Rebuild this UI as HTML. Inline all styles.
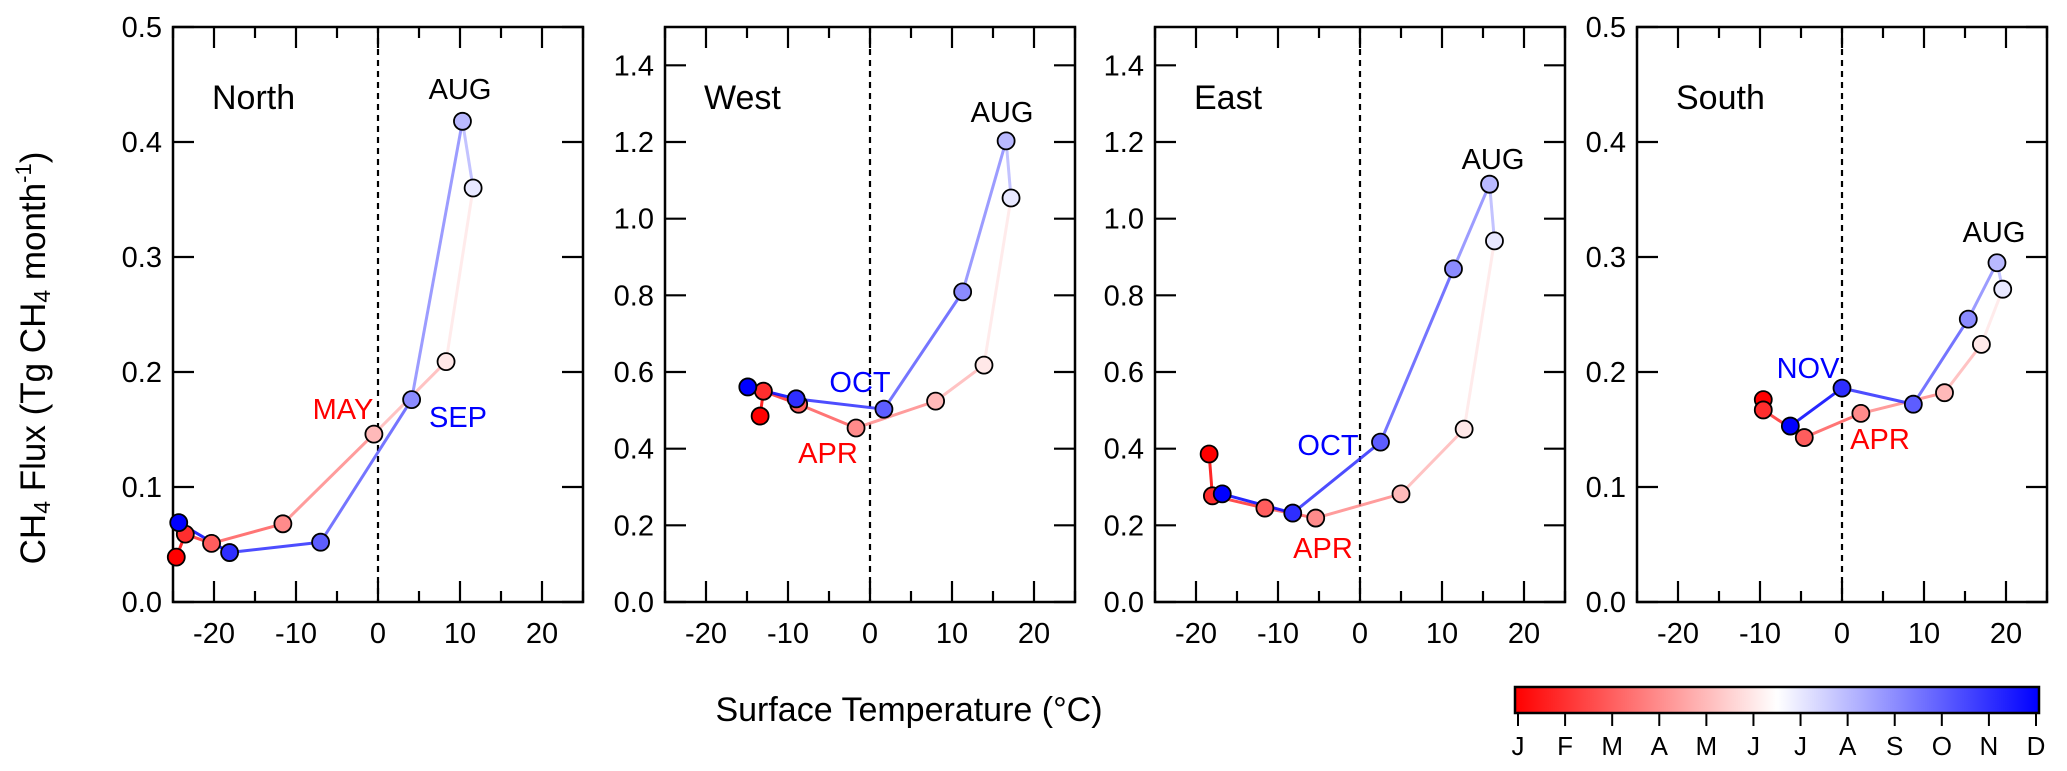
<!DOCTYPE html>
<html><head><meta charset="utf-8">
<style>
html,body{margin:0;padding:0;background:#fff;}
svg{display:block;font-family:"Liberation Sans",Arial,sans-serif;}
</style></head>
<body>
<svg id="fig" xmlns="http://www.w3.org/2000/svg" width="2067" height="771" viewBox="0 0 2067 771">
<text transform="translate(45,358) rotate(-90)" text-anchor="middle" font-size="35">CH<tspan font-size="23" dy="5">4</tspan><tspan dy="-5"> Flux (Tg CH</tspan><tspan font-size="23" dy="5">4</tspan><tspan dy="-5"> month</tspan><tspan font-size="22" dy="-14">-1</tspan><tspan dy="14">)</tspan></text>
<text x="909" y="721" text-anchor="middle" font-size="34">Surface Temperature (°C)</text>
<g id="panels"></g>
<g id="cbar"></g>
</svg>
<script>
const months = ["J","F","M","A","M","J","J","A","S","O","N","D"];
const northTemp = [-24.6,-23.5,-20.3,-11.6,-0.5,8.3,11.6,10.3,4.1,-7.0,-18.1,-24.3];
const northFlux = [0.039,0.059,0.051,0.068,0.146,0.209,0.360,0.418,0.176,0.052,0.043,0.069];
const westTemp = [-13.4,-13.0,-8.7,-1.7,8.0,13.9,17.2,16.6,11.3,1.7,-9.0,-14.9];
const westFlux = [0.485,0.550,0.516,0.454,0.524,0.618,1.054,1.203,0.809,0.503,0.530,0.561];
const eastTemp = [-18.4,-18.0,-11.6,-5.4,5.0,12.7,16.4,15.8,11.4,2.5,-8.2,-16.8];
const eastFlux = [0.386,0.277,0.245,0.219,0.282,0.451,0.942,1.090,0.869,0.417,0.232,0.282];
const southTemp = [-9.6,-9.6,-4.6,2.3,12.5,17.0,19.6,18.9,15.4,8.7,0.0,-6.3];
const southFlux = [0.176,0.167,0.143,0.164,0.182,0.224,0.272,0.295,0.246,0.172,0.186,0.153];
const xTickLabels = ["-20","-10","0","10","20"];
const smallYTicks = ["0.0","0.1","0.2","0.3","0.4","0.5"];
const bigYTicks = ["0.0","0.2","0.4","0.6","0.8","1.0","1.2","1.4"];

const NS="http://www.w3.org/2000/svg";
function mk(tag, attrs, parent){const e=document.createElementNS(NS,tag);for(const k in attrs)e.setAttribute(k,attrs[k]);parent.appendChild(e);return e;}
function monthColor(i){const t=i/11;let r,g,b;
 if(t<=0.5){r=255;g=b=Math.round(510*t);} else {b=255;r=g=Math.round(255*(2-2*t));}
 return `rgb(${r},${g},${b})`;}

const panelsDef=[
 {name:"north",title:"North",left:173,temp:northTemp,flux:northFlux,ymax:0.5,yt:smallYTicks,
  labels:[["AUG",460,99,"#000"],["MAY",343,419,"#f00"],["SEP",458,427,"#00f"]]},
 {name:"west",title:"West",left:665,temp:westTemp,flux:westFlux,ymax:1.5,yt:bigYTicks,
  labels:[["AUG",1002,122,"#000"],["OCT",860,392,"#00f"],["APR",828,463,"#f00"]]},
 {name:"east",title:"East",left:1155,temp:eastTemp,flux:eastFlux,ymax:1.5,yt:bigYTicks,
  labels:[["AUG",1493,169,"#000"],["OCT",1328,455,"#00f"],["APR",1323,558,"#f00"]]},
 {name:"south",title:"South",left:1637,temp:southTemp,flux:southFlux,ymax:0.5,yt:smallYTicks,
  labels:[["AUG",1994,242,"#000"],["NOV",1808,378,"#00f"],["APR",1880,449,"#f00"]]}
];
const TOP=27,BOT=602,W=410;
const root=document.getElementById('panels');
panelsDef.forEach(p=>{
 const g=mk('g',{},root);
 
 
 const xs=v=>p.left+(v+25)/50*W;
 const ys=v=>BOT-(v/p.ymax)*(BOT-TOP);
 const z=mk('line',{x1:xs(0),x2:xs(0),y1:TOP,y2:BOT,stroke:'#000','stroke-width':2.2,'stroke-dasharray':'6,5'},g);
 
 
 const f=mk('rect',{x:p.left,y:TOP,width:W,height:BOT-TOP,fill:'none',stroke:'#000','stroke-width':2.5},g);
 
 
 for(let v=-25;v<=25;v+=5){const L=(v%10===0)?21:11;const x=xs(v);
  mk('line',{x1:x,x2:x,y1:BOT,y2:BOT-L,stroke:'#000','stroke-width':2.2},g);
  mk('line',{x1:x,x2:x,y1:TOP,y2:TOP+L,stroke:'#000','stroke-width':2.2},g);}
 xTickLabels.forEach(s=>{const t=mk('text',{x:xs(+s),y:643,'text-anchor':'middle','font-size':29},g);t.textContent=s;
  
  });
 p.yt.forEach(s=>{const y=ys(+s);
  mk('line',{x1:p.left,x2:p.left+21,y1:y,y2:y,stroke:'#000','stroke-width':2.2},g);
  mk('line',{x1:p.left+W,x2:p.left+W-21,y1:y,y2:y,stroke:'#000','stroke-width':2.2},g);
  const t=mk('text',{x:p.left-11,y:y+10,'text-anchor':'end','font-size':29},g);t.textContent=s;
  
  });
 const tt=mk('text',{x:p.left+39,y:109,'font-size':34},g);tt.textContent=p.title;
 
 
 for(let i=0;i<11;i++){const c=i<6?monthColor(i):monthColor(i+1);
  const s=mk('line',{x1:xs(p.temp[i]),y1:ys(p.flux[i]),x2:xs(p.temp[i+1]),y2:ys(p.flux[i+1]),stroke:c,'stroke-width':3,'stroke-opacity':0.85},g);
  
  }
 for(let i=0;i<12;i++){
  const c=mk('circle',{cx:xs(p.temp[i]),cy:ys(p.flux[i]),r:8.5,fill:monthColor(i),stroke:'#000','stroke-width':1.8},g);
  
  }
 p.labels.forEach(l=>{const t=mk('text',{x:l[1],y:l[2],'text-anchor':'middle','font-size':29,fill:l[3]},g);t.textContent=l[0];
  
  });
});
const cb=document.getElementById('cbar');


const defs=mk('defs',{},cb);
const lg=mk('linearGradient',{id:'grad',x1:0,x2:1,y1:0,y2:0},defs);
mk('stop',{offset:0,'stop-color':'rgb(255,0,0)'},lg);
mk('stop',{offset:0.5,'stop-color':'rgb(255,255,255)'},lg);
mk('stop',{offset:1,'stop-color':'rgb(0,0,255)'},lg);
const CBL=1515,CBR=2039;
mk('rect',{x:CBL,y:687,width:CBR-CBL,height:26,fill:'url(#grad)',stroke:'#000','stroke-width':2.5},cb);
months.forEach((m,i)=>{const x=1518+i*(2036-1518)/11;
 mk('line',{x1:x,x2:x,y1:713,y2:726,stroke:'#000','stroke-width':2},cb);
 const t=mk('text',{x:x,y:755,'text-anchor':'middle','font-size':26},cb);t.textContent=m;
 
 });
</script>
</body></html>
